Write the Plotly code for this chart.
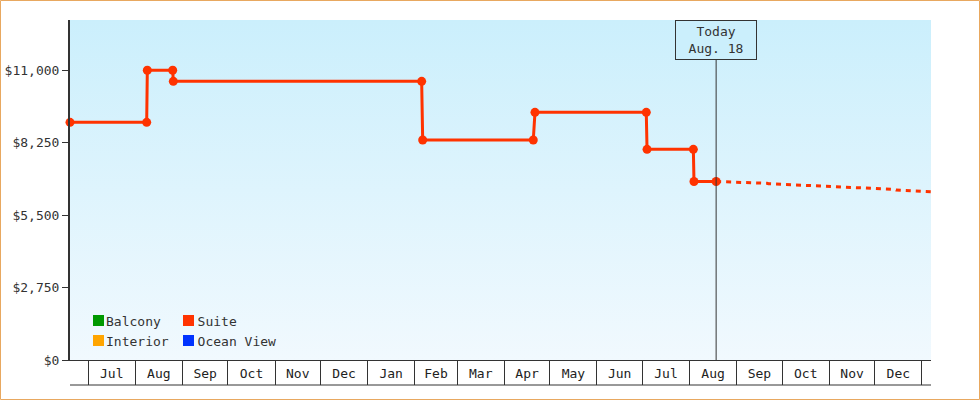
import plotly.graph_objects as go

# ---- data ----
suite_dates = ["2024-06-19 00:00", "2024-08-08 12:00", "2024-08-08 22:00", "2024-08-25 15:00",
               "2024-08-26 01:00", "2025-02-05 14:00", "2025-02-06 06:00", "2025-04-20 02:00",
               "2025-04-21 05:00", "2025-07-03 12:00", "2025-07-04 00:00", "2025-08-03 12:00",
               "2025-08-03 22:00", "2025-08-18 12:00"]
suite_prices = [9016, 9016, 10990, 10990, 10570, 10570, 8345, 8345, 9395, 9395,
                7992, 7992, 6770, 6770]

forecast_dates = ["2025-08-18 12:00", "2025-09-07", "2025-09-08", "2025-09-21", "2025-09-22",
                  "2025-12-01", "2025-12-02", "2025-12-14", "2025-12-15", "2025-12-28",
                  "2025-12-30", "2026-01-07"]
forecast_prices = [6770, 6740, 6725, 6703, 6687, 6513, 6487, 6472, 6449, 6422, 6403, 6384]

legend_col1 = ["Balcony", "Interior"]
legend_col1_colors = ["#009900", "#ffa500"]
legend_col2 = ["Suite", "Ocean View"]
legend_col2_colors = ["#ff3300", "#0033ff"]

today = "2025-08-18 12:00"
today_label = "Today<br>Aug. 18"
x_range = ["2024-06-19 00:00", "2026-01-07 00:00"]
y_max = 12897
y_ticks = [0, 2750, 5500, 8250, 11000]
y_ticktext = ["$" + format(v, ",d") for v in y_ticks]

FONT = "DejaVu Sans Mono"
INK = "#333333"
BG_TOP = "#cbeffc"
BG_BOTTOM = "#f1f9fe"

# ---- layout geometry (pixels) ----
W, H = 980, 400
ML, MR, MT, MB = 70, 49, 20, 40
PW, PH = W - ML - MR, H - MT - MB


def px_x(px):
    return (px - ML) / PW


def px_y(py):
    return (H - MB - py) / PH


fig = go.Figure()

# gradient plot background
fig.add_trace(go.Scatter(
    x=[x_range[0], x_range[1], x_range[1], x_range[0], x_range[0]],
    y=[0, 0, y_max, y_max, 0],
    mode="lines", line=dict(width=0), fill="toself",
    fillgradient=dict(type="vertical", colorscale=[[0, BG_BOTTOM], [1, BG_TOP]]),
    hoverinfo="skip", showlegend=False,
))

# forecast (dashed)
fig.add_trace(go.Scatter(
    x=forecast_dates, y=forecast_prices, mode="lines",
    line=dict(color="#ff3300", width=3, dash="5px,5px"),
    showlegend=False, hoverinfo="skip",
))

# suite history
fig.add_trace(go.Scatter(
    x=suite_dates, y=suite_prices, mode="lines+markers",
    line=dict(color="#ff3300", width=3),
    marker=dict(color="#ff3300", size=9),
    cliponaxis=False, showlegend=False, name="Suite",
))

# legend entries; swatches are drawn as small squares right before each name
shapes = []
legend_cols = [(legend_col1, legend_col1_colors, "legend", 66, 93),
               (legend_col2, legend_col2_colors, "legend2", 157.6, 183)]
for names, colors, lg, lx, sx in legend_cols:
    for i, (n, c) in enumerate(zip(names, colors)):
        fig.add_trace(go.Scatter(
            x=[None], y=[None], mode="markers", legend=lg, name=n,
            marker=dict(symbol="square", size=1, color="rgba(0,0,0,0)",
                        line=dict(width=0)),
        ))
        top = 315 + 20 * i
        shapes.append(dict(type="rect", xref="paper", yref="paper",
                           x0=px_x(sx), x1=px_x(sx + 11), y0=px_y(top + 11), y1=px_y(top),
                           fillcolor=c, line=dict(width=0), layer="above"))

legend_common = dict(orientation="v", bgcolor="rgba(0,0,0,0)", borderwidth=0,
                     font=dict(family=FONT, size=13, color=INK),
                     xanchor="left", yanchor="bottom", tracegroupgap=0)

shapes += [
    # today line
    dict(type="line", xref="x", yref="paper", x0=today, x1=today, y0=0, y1=1,
         line=dict(color=INK, width=1), layer="above"),
    # bottom line of month boxes
    dict(type="line", xref="paper", yref="paper", x0=0, x1=1, y0=px_y(385), y1=px_y(385),
         line=dict(color=INK, width=1)),
    # outer orange border
    dict(type="rect", xref="paper", yref="paper",
         x0=px_x(0.5), x1=px_x(W - 0.5), y0=px_y(H - 0.5), y1=px_y(0.5),
         line=dict(color="#e8a860", width=1), fillcolor="rgba(0,0,0,0)"),
]

fig.update_layout(
    width=W, height=H,
    margin=dict(l=ML, r=MR, t=MT, b=MB, autoexpand=False),
    paper_bgcolor="white", plot_bgcolor="rgba(0,0,0,0)",
    font=dict(family=FONT, size=13, color=INK),
    legend=dict(x=px_x(legend_cols[0][3]), y=0.013, **legend_common),
    legend2=dict(x=px_x(legend_cols[1][3]), y=0.013, **legend_common),
    xaxis=dict(
        type="date", range=x_range, dtick="M1", tickformat="%b",
        ticklabelmode="period", ticks="outside", ticklen=24, tickwidth=1,
        tickcolor=INK, showline=True, linewidth=1, linecolor=INK,
        showgrid=False, zeroline=False, ticklabelstandoff=-23,
        tickfont=dict(family=FONT, size=13, color="#222222"),
    ),
    yaxis=dict(
        range=[0, y_max], tickmode="array", tickvals=y_ticks, ticktext=y_ticktext,
        ticks="outside", ticklen=6, tickwidth=1, tickcolor=INK,
        showline=True, linewidth=2, linecolor=INK, showgrid=False, zeroline=False,
        tickfont=dict(family=FONT, size=13, color=INK),
    ),
    shapes=shapes,
    annotations=[
        dict(x=today, xref="x", y=1, yref="paper", xanchor="center", yanchor="top",
             text=today_label, showarrow=False, align="center",
             font=dict(family=FONT, size=13, color=INK),
             bgcolor=BG_TOP, bordercolor=INK, borderwidth=1, borderpad=2,
             width=76, height=34),
    ],
)

fig.write_html("out.html", config={"displayModeBar": False},
               post_script="document.body.style.margin='0';")
